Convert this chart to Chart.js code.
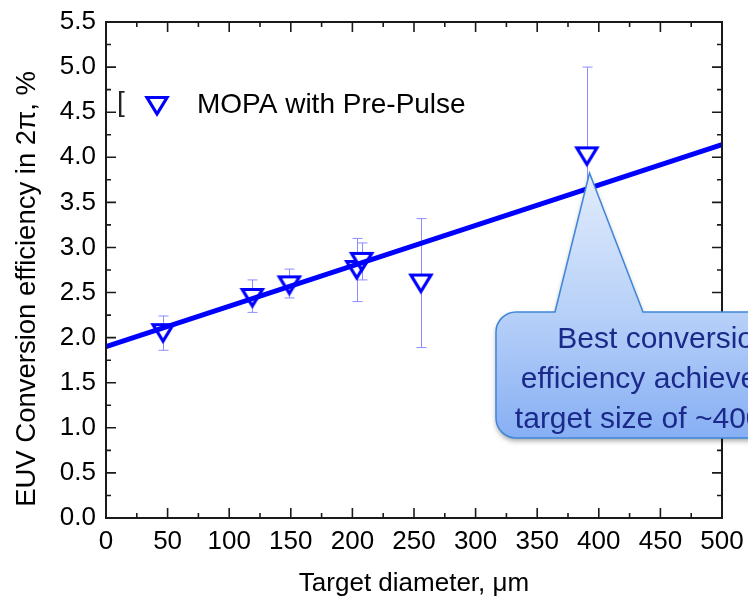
<!DOCTYPE html>
<html>
<head>
<meta charset="utf-8">
<script src="https://cdn.jsdelivr.net/npm/chart.js@4.4.1/dist/chart.umd.min.js"></script>
<style>
  html, body { margin: 0; padding: 0; background: #fff; }
  #wrap { width: 748px; height: 600px; }
</style>
</head>
<body>
<div id="wrap"><canvas id="ceChart" width="748" height="600"></canvas></div>
<script>
// target diameter (um) vs EUV conversion efficiency (%)
const diameters = [46.3, 118.8, 148.8, 203.5, 207.5, 255.6, 390.3];
const efficiency = [2.05, 2.44, 2.58, 2.75, 2.84, 2.60, 4.01];
const errTop = [2.24, 2.64, 2.76, 3.10, 3.05, 3.32, 5.00];
const errBottom = [1.86, 2.28, 2.44, 2.40, 2.64, 1.89, 3.00];

// linear fit
const fitX = [0, 500];
const fitY = [1.90, 4.14];

const xTicks = [0, 50, 100, 150, 200, 250, 300, 350, 400, 450, 500];
const yTicks = [0, 0.5, 1, 1.5, 2, 2.5, 3, 3.5, 4, 4.5, 5, 5.5];

const FONT = "'Liberation Sans', Arial, sans-serif";
Chart.defaults.font.family = FONT;
Chart.defaults.color = '#000';

// open down-triangle marker, centred on its box
function makeMarker() {
  const c = document.createElement('canvas');
  c.width = 30;
  c.height = 28;
  const g = c.getContext('2d');
  g.beginPath();
  g.moveTo(5, 5.5);
  g.lineTo(25, 5.5);
  g.lineTo(15, 22);
  g.closePath();
  g.fillStyle = '#fff';
  g.fill();
  g.lineWidth = 3.2;
  g.strokeStyle = '#0000ff';
  g.stroke();
  return c;
}
const marker = makeMarker();

const errorBars = {
  id: 'errorBars',
  beforeDatasetsDraw(chart) {
    const ctx = chart.ctx;
    const xs = chart.scales.x, ys = chart.scales.y;
    ctx.save();
    ctx.strokeStyle = '#8c8cff';
    ctx.lineWidth = 1;
    diameters.forEach((d, i) => {
      const px = Math.round(xs.getPixelForValue(d)) + 0.5;
      const top = ys.getPixelForValue(errTop[i]);
      const bot = ys.getPixelForValue(errBottom[i]);
      ctx.beginPath();
      ctx.moveTo(px, top);
      ctx.lineTo(px, bot);
      ctx.moveTo(px - 5, top);
      ctx.lineTo(px + 5, top);
      ctx.moveTo(px - 5, bot);
      ctx.lineTo(px + 5, bot);
      ctx.stroke();
    });
    ctx.restore();
  }
};

// box frame with inward ticks on all four sides
const frameTicks = {
  id: 'frameTicks',
  afterDatasetsDraw(chart) {
    const ctx = chart.ctx;
    const a = chart.chartArea;
    const xs = chart.scales.x, ys = chart.scales.y;
    ctx.save();
    ctx.strokeStyle = '#1a1a1a';
    ctx.lineWidth = 1.6;
    ctx.beginPath();
    xTicks.forEach((v, i) => {
      const p = xs.getPixelForValue(v);
      ctx.moveTo(p, a.bottom); ctx.lineTo(p, a.bottom - 10);
      ctx.moveTo(p, a.top); ctx.lineTo(p, a.top + 10);
      if (i < xTicks.length - 1) {
        const m = xs.getPixelForValue((v + xTicks[i + 1]) / 2);
        ctx.moveTo(m, a.bottom); ctx.lineTo(m, a.bottom - 5);
        ctx.moveTo(m, a.top); ctx.lineTo(m, a.top + 5);
      }
    });
    yTicks.forEach((v, i) => {
      const p = ys.getPixelForValue(v);
      ctx.moveTo(a.left, p); ctx.lineTo(a.left + 10, p);
      ctx.moveTo(a.right, p); ctx.lineTo(a.right - 10, p);
      if (i < yTicks.length - 1) {
        const m = ys.getPixelForValue((v + yTicks[i + 1]) / 2);
        ctx.moveTo(a.left, m); ctx.lineTo(a.left + 5, m);
        ctx.moveTo(a.right, m); ctx.lineTo(a.right - 5, m);
      }
    });
    ctx.stroke();
    ctx.lineWidth = 2;
    ctx.strokeRect(a.left, a.top, a.right - a.left, a.bottom - a.top);
    ctx.restore();
  }
};

const overlay = {
  id: 'overlay',
  afterDraw(chart) {
    const ctx = chart.ctx;
    ctx.save();

    // y title
    ctx.save();
    ctx.translate(35, 289);
    ctx.rotate(-Math.PI / 2);
    ctx.font = '27.5px ' + FONT;
    ctx.fillStyle = '#000';
    ctx.textAlign = 'center';
    ctx.textBaseline = 'alphabetic';
    ctx.fillText('EUV Conversion efficiency in 2\u03c0, %', 0, 0);
    ctx.restore();

    // legend
    ctx.fillStyle = '#222';
    ctx.font = '28px ' + FONT;
    ctx.textBaseline = 'alphabetic';
    ctx.fillText('[', 117, 111);
    ctx.drawImage(marker, 157 - marker.width / 2, 106 - marker.height / 2);
    ctx.fillStyle = '#000';
    ctx.fillText('MOPA with Pre-Pulse', 197, 113);

    // callout
    const L = 496, T = 312, B = 438, R = 832, r = 20;
    const grad = ctx.createLinearGradient(0, 173, 0, B);
    grad.addColorStop(0, '#e2ecfc');
    grad.addColorStop(0.52, '#b8d1f8');
    grad.addColorStop(1, '#87aff4');
    ctx.beginPath();
    ctx.moveTo(555, T);
    ctx.lineTo(589.5, 173);
    ctx.lineTo(643, T);
    ctx.lineTo(R - r, T);
    ctx.arcTo(R, T, R, T + r, r);
    ctx.lineTo(R, B - r);
    ctx.arcTo(R, B, R - r, B, r);
    ctx.lineTo(L + r, B);
    ctx.arcTo(L, B, L, B - r, r);
    ctx.lineTo(L, T + r);
    ctx.arcTo(L, T, L + r, T, r);
    ctx.closePath();
    ctx.save();
    ctx.shadowColor = 'rgba(0,0,0,0.35)';
    ctx.shadowBlur = 5;
    ctx.shadowOffsetY = 3;
    ctx.fillStyle = grad;
    ctx.fill();
    ctx.restore();
    ctx.strokeStyle = '#3f86d8';
    ctx.lineWidth = 1.5;
    ctx.stroke();

    ctx.fillStyle = '#1b2a8a';
    ctx.font = '30px ' + FONT;
    ctx.textAlign = 'center';
    ctx.fillText('Best conversion', 664, 348);
    ctx.fillText('efficiency achieved at', 664, 388);
    ctx.fillText('target size of ~400 \u00b5m', 664, 428);
    ctx.restore();
  }
};

new Chart(document.getElementById('ceChart'), {
  type: 'scatter',
  data: {
    datasets: [
      {
        type: 'line',
        label: 'fit',
        data: fitX.map((x, i) => ({ x: x, y: fitY[i] })),
        borderColor: '#0000ff',
        borderWidth: 5,
        pointRadius: 0,
        fill: false,
        order: 0
      },
      {
        label: 'MOPA with Pre-Pulse',
        data: diameters.map((d, i) => ({ x: d, y: efficiency[i] })),
        pointStyle: marker,
        pointRadius: 6,
        showLine: false,
        order: 1
      }
    ]
  },
  options: {
    responsive: false,
    animation: false,
    layout: { padding: { left: 0, right: 26, top: 22, bottom: 0 } },
    plugins: {
      legend: { display: false },
      tooltip: { enabled: false }
    },
    scales: {
      x: {
        type: 'linear',
        min: 0,
        max: 500,
        afterBuildTicks: s => { s.ticks = xTicks.map(v => ({ value: v })); },
        afterFit: s => { s.height = 82; s.paddingLeft = 0; s.paddingRight = 0; },
        ticks: {
          autoSkip: false,
          maxRotation: 0,
          padding: 8,
          color: '#000',
          font: { size: 26 }
        },
        grid: { display: false, drawTicks: false },
        border: { display: false },
        title: {
          display: true,
          text: 'Target diameter, \u03bcm',
          color: '#000',
          font: { size: 26 },
          padding: { top: 0, bottom: 1 }
        }
      },
      y: {
        type: 'linear',
        min: 0,
        max: 5.5,
        afterBuildTicks: s => { s.ticks = yTicks.map(v => ({ value: v })); },
        afterFit: s => { s.width = 106; s.paddingTop = 0; s.paddingBottom = 0; },
        ticks: {
          autoSkip: false,
          padding: 10,
          color: '#000',
          font: { size: 26 },
          callback: v => Number(v).toFixed(1)
        },
        grid: { display: false, drawTicks: false },
        border: { display: false }
      }
    }
  },
  plugins: [errorBars, frameTicks, overlay]
});
</script>
</body>
</html>
